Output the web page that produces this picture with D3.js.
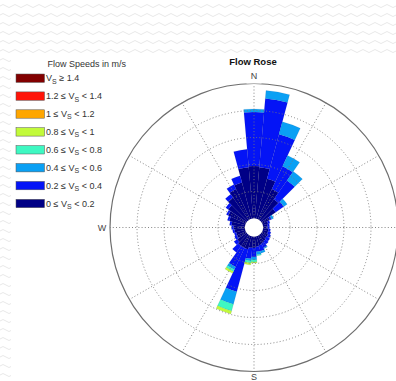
<!DOCTYPE html>
<html>
<head>
<meta charset="utf-8">
<script src="https://cdn.jsdelivr.net/npm/d3@7"></script>
<style>
html,body{margin:0;padding:0;background:#fff;}
svg{display:block;font-family:"Liberation Sans",Arial,sans-serif;}
</style>
</head>
<body>
<svg id="chart" width="396" height="381"></svg>
<script>
// ---------- DATA ----------
const directions = [0,10,20,30,40,50,60,70,80,90,100,110,120,130,140,150,160,170,
                    180,190,200,210,220,230,240,250,260,270,280,290,300,310,320,330,340,350];
const speedClasses = ["0-0.2","0.2-0.4","0.4-0.6","0.6-0.8","0.8-1","1-1.2","1.2-1.4",">=1.4"];
// frequency (%) per direction for each speed class
const s0 = [4.86,4.77,3.84,3.10,2.36,1.62,0.79,0.51,0.42,0.42,0.51,0.51,0.60,0.60,0.69,0.79,0.88,0.97,
            1.06,1.06,1.25,1.25,1.25,1.06,0.88,0.88,0.97,1.06,1.25,1.53,1.81,2.08,2.55,3.10,3.47,4.77];
const s1 = [5.00,6.39,4.26,2.32,2.13,0.93,0.19,0.19,0.19,0.19,0.19,0.28,0.28,0.37,0.37,0.46,0.56,0.46,
            0.83,1.02,4.07,1.94,0.74,0.37,0.28,0.19,0.19,0.19,0.19,0.19,0.19,0.28,0.37,0.46,0.65,1.67];
const s2 = [0.28,0.74,1.20,1.11,1.02,0.37,0.19,0,0,0,0,0,0,0,0,0.09,0.19,0.28,
            0.28,0.19,1.20,0.28,0,0,0,0,0,0,0,0,0,0,0,0,0,0];
const s3 = [0,0,0,0,0,0,0,0,0,0,0,0,0,0,0,0,0,0.09,
            0.19,0.19,0.65,0.19,0,0,0,0,0,0,0,0,0,0,0,0,0,0];
const s4 = [0,0,0,0,0,0,0,0,0,0,0,0,0,0,0,0,0,0,
            0.09,0.19,0.28,0.19,0,0,0,0,0,0,0,0,0,0,0,0,0,0];
const s5 = [0,0,0,0,0,0,0,0,0,0,0,0,0,0,0,0,0,0,0,0,0,0,0,0,0,0,0,0,0,0,0,0,0,0,0,0];
const s6 = [0,0,0,0,0,0,0,0,0,0,0,0,0,0,0,0,0,0,0,0,0,0,0,0,0,0,0,0,0,0,0,0,0,0,0,0];
const s7 = [0,0,0,0,0,0,0,0,0,0,0,0,0,0,0,0,0,0,0,0,0,0,0,0,0,0,0,0,0,0,0,0,0,0,0,0];
const seriesValues = [s0,s1,s2,s3,s4,s5,s6,s7];
const classColors = ["#000086","#0414F6","#0AA0F4","#3EF8C2","#C2FA3A","#FFA600","#FF1408","#820000"];
const legendLabels = [
  ["", "V","S"," \u2265 1.4"],
  ["1.2 \u2264 ", "V","S"," < 1.4"],
  ["1 \u2264 ", "V","S"," < 1.2"],
  ["0.8 \u2264 ", "V","S"," < 1"],
  ["0.6 \u2264 ", "V","S"," < 0.8"],
  ["0.4 \u2264 ", "V","S"," < 0.6"],
  ["0.2 \u2264 ", "V","S"," < 0.4"],
  ["0 \u2264 ", "V","S"," < 0.2"]
];
const gridTicks = [2.5,5,7.5,10];
const maxFreq = 12.5;
const compassLabels = [["N",0],["S",180],["W",270]];
const spokeAngles = [0,30,60,90,120,150,180,210,240,270,300,330];

// ---------- LAYOUT ----------
const svg = d3.select("#chart");
const W = 396, H = 381;
const cx = 254, cy = 227.5, R0 = 9, R = 144;

// background wavy pattern
const defs = svg.append("defs");
const pat = defs.append("pattern").attr("id","wave").attr("patternUnits","userSpaceOnUse")
  .attr("width",12).attr("height",9);
pat.append("path").attr("d","M0 6 Q3 3 6 6 T12 6").attr("fill","none")
  .attr("stroke","#e8e8e8").attr("stroke-width",1);
svg.append("rect").attr("width",W).attr("height",H).attr("fill","url(#wave)");
svg.append("rect").attr("x",11).attr("y",54).attr("width",W-11).attr("height",H-54).attr("fill","#fff");

const g = svg.append("g").attr("transform",`translate(${cx},${cy})`);
const r = d3.scaleLinear().domain([0,maxFreq]).range([R0,R]);

// stacked data
const table = directions.map((d,i)=>{
  const o = {dir:d};
  speedClasses.forEach((c,k)=>{o[c]=seriesValues[k][i];});
  return o;
});
const stacked = d3.stack().keys(speedClasses)(table);
const toRad = Math.PI/180;
const arc = d3.arc()
  .innerRadius(d=>r(d[0]))
  .outerRadius(d=>r(d[1]))
  .startAngle(d=>(d.data.dir-5)*toRad)
  .endAngle(d=>(d.data.dir+5)*toRad);

stacked.forEach((layer,k)=>{
  g.append("g").selectAll("path")
    .data(layer.filter(d=>d[1]-d[0]>0))
    .join("path")
    .attr("d",arc)
    .attr("fill",classColors[k])
    .attr("stroke","#101040")
    .attr("stroke-opacity",0.2)
    .attr("stroke-width",0.4);
});

// grid circles (dotted)
g.append("g").selectAll("circle").data(gridTicks).join("circle")
  .attr("r",d=>r(d)).attr("fill","none")
  .attr("stroke","#777").attr("stroke-width",0.9).attr("stroke-dasharray","1,2.2");

// spokes
g.append("g").selectAll("line").data(spokeAngles).join("line")
  .attr("x1",d=>Math.sin(d*toRad)*R0).attr("y1",d=>-Math.cos(d*toRad)*R0)
  .attr("x2",d=>Math.sin(d*toRad)*R).attr("y2",d=>-Math.cos(d*toRad)*R)
  .attr("stroke","#777").attr("stroke-width",0.9).attr("stroke-dasharray","1,2.2");

// center hole
g.append("circle").attr("r",R0).attr("fill","#fff");

// outer circle
g.append("circle").attr("r",r(maxFreq)).attr("fill","none")
  .attr("stroke","#6e6e6e").attr("stroke-width",1.2);

// compass labels
compassLabels.forEach(([t,a])=>{
  let tx=0, ty=0;
  if(t==="N"){ g.append("rect").attr("x",-7.5).attr("y",-R-10).attr("width",15).attr("height",10).attr("fill","#fff"); ty=-R-4.5; }
  if(t==="S"){ ty=R+8.5; }
  if(t==="W"){ tx=-R-8; ty=3.5; }
  g.append("text").attr("x",tx).attr("y",ty).attr("text-anchor","middle")
    .attr("font-size",9).attr("fill","#444").text(t);
});

// title
svg.append("text").attr("x",253).attr("y",64.5).attr("text-anchor","middle")
  .attr("font-size",9.5).attr("font-weight","bold").attr("fill","#111").text("Flow Rose");

// legend
const lg = svg.append("g");
lg.append("text").attr("x",47.5).attr("y",67).attr("font-size",9).attr("fill","#333")
  .text("Flow Speeds in m/s");
const legendColors = classColors.slice().reverse();
legendLabels.forEach((lab,i)=>{
  const yc = 78.2 + i*17.9;
  lg.append("rect").attr("x",16).attr("y",yc-4.2).attr("width",28.5).attr("height",8.4)
    .attr("fill",legendColors[i]).attr("stroke","#555").attr("stroke-width",0.5);
  const t = lg.append("text").attr("x",46).attr("y",yc+3.2).attr("font-size",9).attr("fill","#333");
  t.append("tspan").text(lab[0]);
  t.append("tspan").text(lab[1]);
  t.append("tspan").attr("font-size",7).attr("dy",2.2).text(lab[2]);
  t.append("tspan").attr("dy",-2.2).text(lab[3]);
});
</script>
</body>
</html>
